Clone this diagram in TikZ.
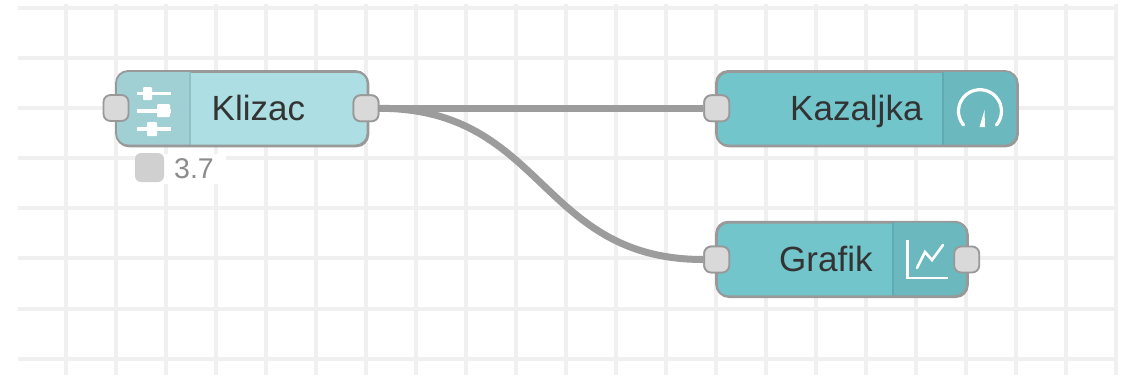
\documentclass[tikz,border=0pt]{standalone}
\usepackage{fontspec}
\setmainfont{Liberation Sans}
\definecolor{gridc}{HTML}{F0F0F0}
\definecolor{edgec}{HTML}{999999}
\definecolor{wirec}{HTML}{9C9C9C}
\definecolor{portc}{HTML}{D9D9D9}
\definecolor{statc}{HTML}{D0D0D0}
\definecolor{lightn}{HTML}{ACDEE3}
\definecolor{lighti}{HTML}{A0CFD4}
\definecolor{darkn}{HTML}{73C5CC}
\definecolor{darki}{HTML}{6BB8BF}
\definecolor{divc}{HTML}{8FC0C5}
\definecolor{divd}{HTML}{60ABB2}
\definecolor{textc}{HTML}{333333}
\tikzset{
 x=1pt,y=-1pt,
 gridline/.style={draw=gridc,line width=3.5pt},
 nodebox/.style={draw=edgec,line width=1.8pt,rounded corners=12pt,minimum height=74.5pt,inner sep=0pt,anchor=north west},
 portbox/.style={draw=edgec,fill=portc,line width=1.8pt,rounded corners=7pt,minimum width=25pt,minimum height=26pt,inner sep=0pt},
 wire/.style={draw=wirec,line width=7pt},
 label/.style={text=textc,font=\fontsize{35}{35}\selectfont,inner sep=0pt},
 icon/.style={draw=white,line width=3.5pt},
 icont/.style={draw=white,line width=2.2pt},
}
\begin{document}
\begin{tikzpicture}
\useasboundingbox (0,0) rectangle (1122,375);
\fill[white] (0,0) rectangle (1122,375);
% grid
\foreach \gx in {66,116,...,1116} {\draw[gridline] (\gx,4) -- (\gx,375);}
\foreach \gy in {8,58,108,158,208,258,309,359} {\draw[gridline] (18,\gy) -- (1116,\gy);}
% nodes
\node[nodebox,fill=lightn,minimum width=251.5pt] (klizac) at (116,71) {};
\begin{scope}
\clip[rounded corners=12pt] (116,71) rectangle (367.5,145.5);
\fill[lighti] (116,71) rectangle (190,145.5);
\draw[divc,line width=2pt] (190,71) -- (190,145.5);
\end{scope}
\draw[edgec,line width=1.8pt,rounded corners=12pt] (116,71) rectangle (367.5,145.5);
\node[nodebox,fill=darkn,minimum width=301pt] (kazaljka) at (716,71) {};
\begin{scope}
\clip[rounded corners=12pt] (716,71) rectangle (1017,145.5);
\fill[darki] (943,71) rectangle (1017,145.5);
\draw[divd,line width=2pt] (943,71) -- (943,145.5);
\end{scope}
\draw[edgec,line width=1.8pt,rounded corners=12pt] (716,71) rectangle (1017,145.5);
\node[nodebox,fill=darkn,minimum width=251pt] (grafik) at (716,221.7) {};
\begin{scope}
\clip[rounded corners=12pt] (716,221.7) rectangle (967,296.2);
\fill[darki] (892.5,221.7) rectangle (967,296.2);
\draw[divd,line width=2pt] (892.5,221.7) -- (892.5,296.2);
\end{scope}
\draw[edgec,line width=1.8pt,rounded corners=12pt] (716,221.7) rectangle (967,296.2);
% ports
\node[portbox] (kin) at (116,108) {};
\node[portbox] (kout) at (366,108.3) {};
\node[portbox] (zin) at (716.7,108.3) {};
\node[portbox] (gin) at (716.7,259.5) {};
\node[portbox] (gout) at (966.7,259.5) {};
% wires
\draw[wire] (kout.east) -- (zin.west);
\draw[wire] (kout.east) .. controls (545,108.3) and (539,259.5) .. (gin.west);
\node[portbox] at (kout) {};
\node[portbox] at (zin) {};
\node[portbox] at (gin) {};
% labels
\node[label,anchor=base west] (t1) at (211.5,120.5) {Klizac};
\node[label,anchor=base west] (t2) at (790,120.5) {Kazaljka};
\node[label,anchor=base west] (t3) at (779,271.5) {Grafik};
% slider icon
\draw[icon] (137,93.5) -- (171,93.5);
\fill[white,rounded corners=1pt] (143,87) rectangle (152,100);
\draw[icon] (137,111) -- (171,111);
\fill[white,rounded corners=1pt] (157,104) rectangle (170,117);
\draw[icon] (137,129) -- (171,129);
\fill[white,rounded corners=1pt] (147,122) rectangle (157,136);
% gauge icon
\draw[icon,line width=3.2pt,line cap=round] (963.5,125) arc[start angle=140,end angle=400,radius=21.5];
\fill[white] (979.5,127) -- (984.5,110) -- (985,127) -- cycle;
% chart icon
\draw[icont] (907.5,240) -- (907.5,278) -- (948,278);
\draw[icon,line width=2.6pt,line cap=round] (917,268) -- (925,252) -- (932,260) -- (943,245);
% status
\fill[white] (164,154) rectangle (226,184);
\node[fill=statc,minimum size=29pt,inner sep=0pt,rounded corners=6pt] (stat) at (149.5,167.5) {};
\node[text=gray!90,font=\fontsize{28.5}{28.5}\selectfont,inner sep=0pt,anchor=base west] (st) at (174,178.5) {3.7};
\end{tikzpicture}
\end{document}
